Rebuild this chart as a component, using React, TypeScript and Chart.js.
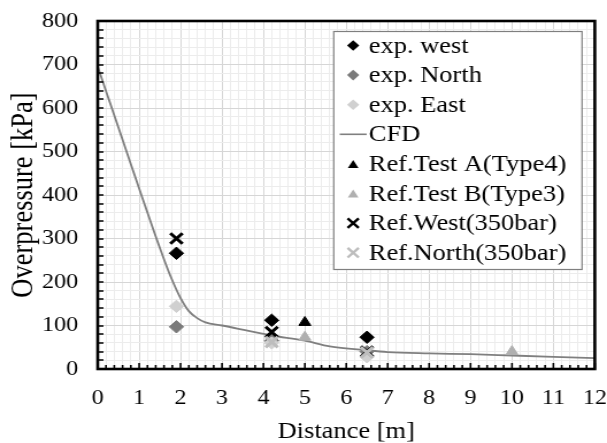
import React, { useEffect, useRef } from 'react';
import { Chart, registerables } from 'chart.js';

Chart.register(...registerables);

const FONT = '"Liberation Serif", "Times New Roman", serif';

// Overpressure measurements and references: distance [m] vs overpressure [kPa]
const expWestX = [1.9, 4.2, 6.5];
const expWestY = [266, 112, 73];
const expNorthX = [1.9, 4.2, 6.5];
const expNorthY = [97, 65, 40];
const expEastX = [1.9, 4.2, 6.5];
const expEastY = [144, 60, 28];
const cfdX = [0, 0.5, 1, 1.5, 1.75, 2, 2.2, 2.4, 2.6, 3, 3.67, 4.2, 5, 5.6, 6.5, 7, 8, 9, 10, 11, 12];
const cfdY = [695, 555, 415, 278, 215, 163, 133, 117, 107, 100, 87, 77, 65, 52, 43, 39, 36, 34, 31, 28, 25];
const refAX = [5];
const refAY = [107];
const refBX = [5, 10];
const refBY = [73, 40];
const refWestX = [1.9, 4.2, 6.5];
const refWestY = [300, 85, 40];
const refNorthX = [4.2, 6.5];
const refNorthY = [62, 38];

// Axis ranges and tick spacing
const xRange = [0, 12];
const xMajor = 1;
const xMinor = 0.2;
const yRange = [0, 800];
const yMajor = 100;
const yMinor = 20;

const xTitle = 'Distance [m]';
const yTitle = 'Overpressure [kPa]';

const pts = (xs: number[], ys: number[]) => xs.map((x, i) => ({ x, y: ys[i] }));
const isMultiple = (v: number, step: number) => Math.abs(v / step - Math.round(v / step)) < 1e-6;

// Bitmap is narrower than the displayed box; the browser stretches it horizontally.
const CANVAS_W = 528;
const CANVAS_H = 443;

function drawMarker(ctx: CanvasRenderingContext2D, style: string, x: number, y: number, color: string) {
  ctx.save();
  ctx.fillStyle = color;
  ctx.strokeStyle = color;
  if (style === 'rectRot') {
    const s = 5.3;
    ctx.beginPath();
    ctx.moveTo(x, y - s);
    ctx.lineTo(x + s, y);
    ctx.lineTo(x, y + s);
    ctx.lineTo(x - s, y);
    ctx.closePath();
    ctx.fill();
  } else if (style === 'triangle') {
    const h = 8;
    const w = 4.6;
    ctx.beginPath();
    ctx.moveTo(x, y - h / 2);
    ctx.lineTo(x + w, y + h / 2);
    ctx.lineTo(x - w, y + h / 2);
    ctx.closePath();
    ctx.fill();
  } else if (style === 'crossRot') {
    const s = 4.8;
    ctx.lineWidth = 2.4;
    ctx.beginPath();
    ctx.moveTo(x - s, y - s);
    ctx.lineTo(x + s, y + s);
    ctx.moveTo(x + s, y - s);
    ctx.lineTo(x - s, y + s);
    ctx.stroke();
  } else if (style === 'line') {
    ctx.lineWidth = 1.6;
    ctx.beginPath();
    ctx.moveTo(x - 11.7, y);
    ctx.lineTo(x + 11.7, y);
    ctx.stroke();
  }
  ctx.restore();
}

const framePlugin = {
  id: 'frameAndTicks',
  afterDatasetsDraw(chart: any) {
    const { ctx, chartArea: a, scales } = chart;
    ctx.save();
    ctx.strokeStyle = '#000';
    // inward tick marks on the left and bottom axes
    ctx.lineWidth = 1.6;
    ctx.beginPath();
    for (let v = yRange[0]; v <= yRange[1] + 1e-6; v += yMinor) {
      const py = Math.round(scales.y.getPixelForValue(v));
      ctx.moveTo(a.left, py);
      ctx.lineTo(a.left + 5, py);
    }
    for (let v = xRange[0]; v <= xRange[1] + 1e-6; v += xMinor) {
      const px = scales.x.getPixelForValue(v);
      const len = isMultiple(v, xMajor) ? 6 : 4;
      ctx.moveTo(px, a.bottom);
      ctx.lineTo(px, a.bottom - len);
    }
    ctx.stroke();
    // plot frame
    ctx.lineWidth = 2.6;
    ctx.strokeRect(a.left, a.top, a.right - a.left, a.bottom - a.top);
    ctx.restore();
  },
};

const legendPlugin = {
  id: 'boxedLegend',
  afterDraw(chart: any) {
    const { ctx, chartArea: a } = chart;
    const right = a.right - 11.6;
    const top = a.top + 10;
    const w = 216;
    const h = 238;
    const left = right - w;
    ctx.save();
    ctx.fillStyle = '#fff';
    ctx.fillRect(left, top, w, h);
    ctx.strokeStyle = '#7f7f7f';
    ctx.lineWidth = 1.2;
    ctx.strokeRect(left + 0.5, top + 0.5, w, h);
    ctx.font = `23px ${FONT}`;
    ctx.textBaseline = 'middle';
    ctx.textAlign = 'left';
    chart.data.datasets.forEach((ds: any, i: number) => {
      const y = top + 14.5 + i * 29.6;
      const isLine = ds.showLine;
      const color = isLine ? ds.borderColor : ds.pointStyle === 'crossRot' ? ds.borderColor : ds.backgroundColor;
      drawMarker(ctx, isLine ? 'line' : ds.pointStyle, left + 17.4, y, color);
      ctx.fillStyle = '#000';
      ctx.fillText(ds.label, left + 31, y + 1);
    });
    ctx.restore();
  },
};

export default function App() {
  const ref = useRef<HTMLCanvasElement>(null);

  useEffect(() => {
    const canvas = ref.current;
    if (!canvas) return;

    const sets = [
      { label: 'exp. west', data: pts(expWestX, expWestY), pointStyle: 'rectRot', radius: 6.2, backgroundColor: '#000000', borderColor: '#000000' },
      { label: 'exp. North', data: pts(expNorthX, expNorthY), pointStyle: 'rectRot', radius: 6.2, backgroundColor: '#7a7a7a', borderColor: '#7a7a7a' },
      { label: 'exp. East', data: pts(expEastX, expEastY), pointStyle: 'rectRot', radius: 6.2, backgroundColor: '#d0d0d0', borderColor: '#d0d0d0' },
      { label: 'CFD', data: pts(cfdX, cfdY), showLine: true, pointRadius: 0, borderColor: '#7f7f7f', borderWidth: 1.8, cubicInterpolationMode: 'monotone' },
      { label: 'Ref.Test A(Type4)', data: pts(refAX, refAY), pointStyle: 'triangle', radius: 6, backgroundColor: '#000000', borderColor: '#000000' },
      { label: 'Ref.Test B(Type3)', data: pts(refBX, refBY), pointStyle: 'triangle', radius: 6, backgroundColor: '#b0b0b0', borderColor: '#b0b0b0' },
      { label: 'Ref.West(350bar)', data: pts(refWestX, refWestY), pointStyle: 'crossRot', radius: 7.5, borderWidth: 3, backgroundColor: '#000000', borderColor: '#000000' },
      { label: 'Ref.North(350bar)', data: pts(refNorthX, refNorthY), pointStyle: 'crossRot', radius: 7.5, borderWidth: 3, backgroundColor: '#bdbdbd', borderColor: '#bdbdbd' },
    ];

    const datasets = sets.map((s: any, i) => ({
      borderWidth: 1,
      ...s,
      pointRadius: s.pointRadius ?? s.radius,
      pointHoverRadius: s.pointRadius ?? s.radius,
      order: sets.length - i,
    }));

    const chart = new Chart(canvas, {
      type: 'scatter',
      data: { datasets } as any,
      plugins: [framePlugin, legendPlugin],
      options: {
        animation: false,
        responsive: false,
        devicePixelRatio: 1,
        layout: { padding: { top: 21, right: 10.6, left: 0, bottom: 0 } },
        plugins: { legend: { display: false }, tooltip: { enabled: false } },
        scales: {
          x: {
            type: 'linear',
            min: xRange[0],
            max: xRange[1],
            afterFit: (s: any) => {
              s.height = 74;
              s.paddingLeft = 0;
              s.paddingRight = 0;
            },
            ticks: {
              stepSize: xMinor,
              autoSkip: false,
              maxRotation: 0,
              padding: 17,
              color: '#000',
              font: { family: FONT, size: 21 },
              callback: (v: any) => (isMultiple(Number(v), xMajor) ? String(Math.round(Number(v))) : ''),
            },
            grid: {
              drawTicks: false,
              lineWidth: 1,
              color: (c: any) => (isMultiple(c.tick.value, xMajor) ? '#d6d6d6' : '#ececec'),
            },
            border: { display: false },
            title: { display: true, text: xTitle, color: '#000', font: { family: FONT, size: 23 }, padding: { top: 4, bottom: -3 } },
          },
          y: {
            type: 'linear',
            min: yRange[0],
            max: yRange[1],
            afterFit: (s: any) => {
              s.width = 85;
              s.paddingTop = 0;
              s.paddingBottom = 0;
            },
            ticks: {
              stepSize: yMinor,
              autoSkip: false,
              padding: 17,
              color: '#000',
              font: { family: FONT, size: 21 },
              callback: (v: any) => (isMultiple(Number(v), yMajor) ? String(Math.round(Number(v))) : ''),
            },
            grid: {
              drawTicks: false,
              lineWidth: 1,
              color: (c: any) => (isMultiple(c.tick.value, yMajor) ? '#d6d6d6' : '#ececec'),
            },
            border: { display: false },
            title: { display: true, text: yTitle, color: '#000', font: { family: FONT, size: 26.5 }, padding: { top: 5, bottom: 0 } },
          },
        },
      },
    } as any);

    return () => chart.destroy();
  }, []);

  return (
    <div style={{ position: 'fixed', left: 0, top: 0, width: 607, height: 443, background: '#fff' }}>
      <canvas ref={ref} width={CANVAS_W} height={CANVAS_H} style={{ width: '607px', height: '443px', display: 'block' }} />
    </div>
  );
}
